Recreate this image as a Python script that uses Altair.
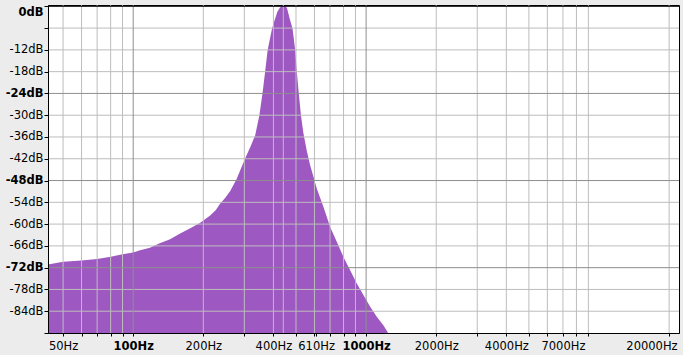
import altair as alt
import pandas as pd

# Spectrum (frequency in Hz, level in dB)
freq_hz = [43.07, 50, 60, 70, 80, 90, 100, 107, 118, 130, 144, 159, 175, 194, 214, 226, 236,
           248, 261, 278, 302, 318, 334, 348, 359, 368, 378, 394, 403, 416, 427, 441, 457,
           472, 483, 496, 504, 514, 525, 538, 557, 575, 596, 614, 656, 701, 749, 800,
           854, 913, 975, 1041, 1113, 1188, 1236, 1250]
level_db = [-71.1, -70.4, -70.0, -69.6, -69.0, -68.3, -67.8, -67.2, -66.5, -65.3, -64.2,
            -62.6, -61.2, -59.6, -57.6, -56.2, -54.4, -52.8, -50.9, -47.6, -42.0, -38.8,
            -35.5, -30.1, -24.0, -18.3, -12.0, -6.3, -4.2, -1.5, -0.3, 0.3, -0.4, -3.9,
            -6.1, -12.0, -18.0, -24.0, -30.0, -35.0, -40.0, -43.8, -47.2, -50.2, -55.3,
            -60.8, -64.9, -69.1, -72.7, -76.4, -79.6, -82.8, -85.6, -87.9, -89.7, -90.5]

x_tick_values = [50, 60, 70, 80, 90, 100, 200, 300, 400, 500, 600, 610, 700, 800, 900,
                 1000, 2000, 3000, 4000, 5000, 6000, 7000, 8000, 9000, 20000]
x_label_values = [50, 100, 200, 400, 610, 1000, 2000, 4000, 7000, 20000]
x_bold_values = [100, 1000]

y_tick_values = [0, -6, -12, -18, -24, -30, -36, -42, -48, -54, -60, -66, -72, -78, -84, -90]
y_label_values = [0, -12, -18, -24, -30, -36, -42, -48, -54, -60, -66, -72, -78, -84]
y_bold_values = [0, -24, -48, -72]

grid_x_minor = [50, 60, 70, 80, 90, 200, 300, 400, 500, 600, 700, 800, 900,
                2000, 3000, 4000, 5000, 6000, 7000, 8000, 9000, 20000]
grid_x_major = [100, 1000]
grid_x_cursor = [441]
grid_y_minor = [-6, -12, -18, -30, -36, -42, -54, -60, -66, -78, -84]
grid_y_major = [-24, -48, -72]
grid_y_zero = [0]

FONT = "DejaVu Sans"
FONT_SIZE = 11.5
PURPLE = "#9E58C1"
MINOR = "#BDBDBD"
MAJOR = "#8E8E8E"

x_scale = alt.Scale(type="log", domain=[43.07, 22050], nice=False)
y_scale = alt.Scale(domain=[-90, 0.36], nice=False, zero=False)

spec_df = pd.DataFrame({"freq": freq_hz, "db": level_db})

x_axis = alt.Axis(
    values=x_tick_values,
    labelExpr=f"indexof({x_label_values}, datum.value) >= 0 ? datum.value + 'Hz' : ''",
    labelFontWeight={"condition": {"test": f"indexof({x_bold_values}, datum.value) >= 0",
                                   "value": "bold"}, "value": "normal"},
    title=None, grid=False, tickSize=3, tickColor="black", domainColor="black",
    labelColor="black", labelFont=FONT, labelFontSize=FONT_SIZE, labelPadding=4,
    labelOverlap=False, labelFlush=12, labelFlushOffset=8, zindex=1,
)
y_axis = alt.Axis(
    values=y_tick_values,
    labelExpr=f"indexof({y_label_values}, datum.value) >= 0 ? datum.value + 'dB' : ''",
    labelFontWeight={"condition": {"test": f"indexof({y_bold_values}, datum.value) >= 0",
                                   "value": "bold"}, "value": "normal"},
    title=None, grid=False, tickSize=4, tickColor="black", domainColor="black",
    labelColor="black", labelFont=FONT, labelFontSize=FONT_SIZE, labelPadding=1,
    labelOverlap=False, labelFlush=3, zindex=1,
)

area = alt.Chart(spec_df).mark_area(color=PURPLE, clip=True, interpolate="linear").encode(
    x=alt.X("freq:Q", scale=x_scale, axis=x_axis),
    y=alt.Y("db:Q", scale=y_scale, axis=y_axis),
    y2=alt.datum(-90),
)


def vrules(values, color):
    return alt.Chart(pd.DataFrame({"freq": values})).mark_rule(color=color, strokeWidth=1).encode(
        x=alt.X("freq:Q", scale=x_scale, axis=x_axis))


def hrules(values, color):
    return alt.Chart(pd.DataFrame({"db": values})).mark_rule(color=color, strokeWidth=1).encode(
        y=alt.Y("db:Q", scale=y_scale, axis=y_axis))


chart = alt.layer(
    area,
    vrules(grid_x_minor, MINOR),
    vrules(grid_x_cursor, MINOR),
    hrules(grid_y_minor, MINOR),
    vrules(grid_x_major, MAJOR),
    hrules(grid_y_major, MAJOR),
    hrules(grid_y_zero, "black"),
).properties(
    width=631,
    height=328,
    padding={"left": 48, "top": 5, "right": 4, "bottom": 22},
    autosize=alt.AutoSizeParams(type="none"),
    background="#ECECEC",
).configure_view(fill="white", stroke="black", strokeWidth=1)

chart.save("out.html", embed_options={"renderer": "svg", "actions": False})
